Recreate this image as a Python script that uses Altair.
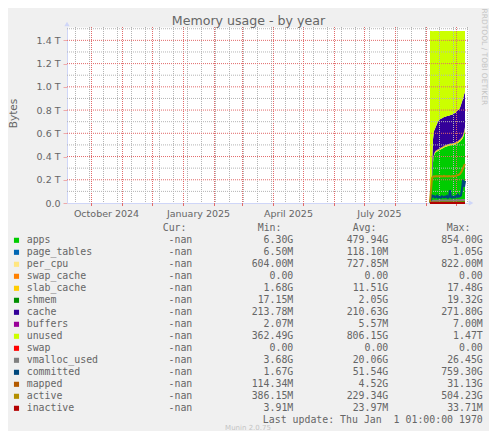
import altair as alt
import pandas as pd

# ---------------- data (GB) ----------------
days = pd.date_range("2025-09-05", periods=36, freq="D").strftime("%Y-%m-%d").tolist()

apps = [6.3, 75, 212, 350, 409, 429, 438, 443, 448, 453,
        458, 463, 468, 472, 477, 482, 487, 487, 492, 492,
        497, 497, 497, 501, 501, 506, 506, 511, 516, 525,
        530, 539, 549, 563, 592, 631]
page_tables = [0.0065, 0.05, 0.08, 0.10, 0.10, 0.11, 0.11, 0.11, 0.11, 0.12,
               0.12, 0.12, 0.12, 0.12, 0.12, 0.12, 0.12, 0.12, 0.12, 0.12,
               0.12, 0.12, 0.12, 0.12, 0.12, 0.12, 0.12, 0.12, 0.13, 0.13,
               0.13, 0.14, 0.15, 0.20, 0.50, 1.05]
per_cpu = [0.60, 0.62, 0.65, 0.68, 0.70, 0.70, 0.71, 0.71, 0.72, 0.72,
           0.72, 0.73, 0.73, 0.73, 0.73, 0.74, 0.74, 0.74, 0.74, 0.74,
           0.74, 0.74, 0.75, 0.75, 0.75, 0.75, 0.75, 0.76, 0.76, 0.77,
           0.78, 0.79, 0.80, 0.81, 0.82, 0.82]
swap_cache = [0.0] * 36
slab_cache = [1.7, 4, 7, 9, 10, 10.5, 11, 11, 11.2, 11.3,
              11.4, 11.5, 11.6, 11.7, 11.8, 11.9, 12, 12, 12.1, 12.2,
              12.3, 12.4, 12.5, 12.6, 12.7, 12.8, 13, 13.2, 13.5, 14,
              14.5, 15, 15.5, 16, 17, 17.5]
shmem = [0.017, 0.5, 1.0, 1.5, 1.7, 1.8, 1.8, 1.9, 1.9, 1.9,
         2.0, 2.0, 2.0, 2.0, 2.0, 2.0, 2.0, 2.0, 2.0, 2.0,
         2.0, 2.0, 2.0, 2.0, 2.0, 2.0, 2.1, 2.1, 2.1, 2.1,
         2.2, 2.2, 2.3, 2.4, 2.5, 2.6]
cache = [0.21, 9.5, 79, 188, 198, 198, 208, 223, 238, 243,
         248, 248, 248, 248, 248, 243, 243, 248, 243, 243,
         243, 248, 248, 248, 253, 253, 258, 263, 268, 263,
         273, 288, 303, 318, 318, 302]
buffers = [0.0021, 0.004, 0.005, 0.0055, 0.0055, 0.0056, 0.0056, 0.0056, 0.0056, 0.0056,
           0.0056, 0.0056, 0.0056, 0.0056, 0.0056, 0.0056, 0.0056, 0.0056, 0.0056, 0.0056,
           0.0056, 0.0056, 0.0056, 0.0056, 0.0056, 0.0056, 0.0057, 0.0057, 0.0058, 0.0058,
           0.006, 0.006, 0.0062, 0.0065, 0.0068, 0.007]
unused = [1473, 1390, 1180, 930, 860, 840, 820, 800, 780, 770,
          760, 755, 750, 745, 740, 740, 735, 730, 730, 730,
          725, 720, 720, 715, 710, 705, 700, 690, 680, 675,
          660, 635, 610, 580, 550, 525]
swap = [0.0] * 36

vmalloc_used = [3.7, 10, 15, 18, 19, 19.5, 20, 20, 20, 20.5,
                20.5, 20.5, 21, 21, 21, 21, 21, 21.5, 21.5, 21.5,
                21.5, 22, 22, 22, 22, 22.5, 22.5, 23, 23, 23.5,
                24, 24.5, 25, 25.5, 26, 26.4]
committed = [1.7, 35, 65, 55, 60, 48, 52, 62, 47, 55,
             50, 45, 58, 52, 48, 56, 50, 60, 45, 52,
             110, 50, 45, 55, 50, 48, 60, 52, 70, 55,
             60, 65, 120, 200, 140, 190]
mapped = [0.11, 2, 3.5, 4, 4.2, 4.3, 4.3, 4.4, 4.4, 4.4,
          4.5, 4.5, 4.5, 4.5, 4.5, 4.5, 4.6, 4.6, 4.6, 4.6,
          4.6, 4.6, 4.6, 4.7, 4.7, 4.7, 4.7, 4.7, 4.8, 4.8,
          4.8, 4.9, 5, 5, 5.2, 5.5]
active = [5, 110, 215, 228, 230, 229, 231, 228, 230, 232,
          229, 231, 228, 230, 233, 229, 231, 230, 228, 232,
          230, 229, 231, 233, 230, 232, 235, 238, 240, 245,
          250, 262, 280, 300, 320, 335]
inactive = [0.0039, 0.01, 0.018, 0.022, 0.023, 0.023, 0.024, 0.024, 0.024, 0.024,
            0.024, 0.024, 0.024, 0.024, 0.024, 0.024, 0.024, 0.024, 0.024, 0.024,
            0.024, 0.024, 0.024, 0.024, 0.024, 0.024, 0.025, 0.025, 0.026, 0.026,
            0.027, 0.028, 0.03, 0.031, 0.033, 0.0337]

names = ["apps", "page_tables", "per_cpu", "swap_cache", "slab_cache", "shmem",
         "cache", "buffers", "unused", "swap", "vmalloc_used", "committed",
         "mapped", "active", "inactive"]
colors = ["#00CC00", "#0066B3", "#FFE680", "#FF8000", "#FFCC00", "#008F00",
          "#330099", "#990099", "#CCFF00", "#FF0000", "#808080", "#00487D",
          "#B35A00", "#B38F00", "#B30000"]
cur_vals = ["-nan"] * 15
min_vals = ["6.30G", "6.50M", "604.00M", "0.00\u00a0", "1.68G", "17.15M", "213.78M",
            "2.07M", "362.49G", "0.00\u00a0", "3.68G", "1.67G", "114.34M", "386.15M", "3.91M"]
avg_vals = ["479.94G", "118.10M", "727.85M", "0.00\u00a0", "11.51G", "2.05G", "210.63G",
            "5.57M", "806.15G", "0.00\u00a0", "20.06G", "51.54G", "4.52G", "229.34G", "23.97M"]
max_vals = ["854.00G", "1.05G", "822.00M", "0.00\u00a0", "17.48G", "19.32G", "271.80G",
            "7.00M", "1.47T", "0.00\u00a0", "26.45G", "759.30G", "31.13G", "504.23G", "33.71M"]

month_starts = pd.date_range("2024-10-01", "2025-10-01", freq="MS").strftime("%Y-%m-%d").tolist()
biweekly = pd.date_range("2024-09-15", "2025-10-12", freq="14D").strftime("%Y-%m-%d").tolist()
minor_y = [100, 300, 500, 700, 900, 1100, 1300, 1500]
major_y = [200, 400, 600, 800, 1000, 1200, 1400]
label_y = [0, 200, 400, 600, 800, 1000, 1200, 1400]

# ---------------- tables ----------------
area_series = [("apps", apps), ("page_tables", page_tables), ("per_cpu", per_cpu),
               ("swap_cache", swap_cache), ("slab_cache", slab_cache), ("shmem", shmem),
               ("cache", cache), ("buffers", buffers), ("unused", unused), ("swap", swap)]
rows = []
for k, (nm, vals) in enumerate(area_series):
    for d, v in zip(days, vals):
        rows.append({"date": d, "name": nm, "value": v, "ord": k})
area_df = pd.DataFrame(rows)

line_series = [("vmalloc_used", vmalloc_used), ("committed", committed),
               ("mapped", mapped), ("active", active), ("inactive", inactive)]

leg_df = pd.DataFrame({"name": names, "cur": cur_vals, "mn": min_vals, "avg": avg_vals,
                       "mx": max_vals, "row": list(range(15))})

FONT = "DejaVu Sans"
MONO = "DejaVu Sans Mono"
TXT = "#666666"
AXIS = "#CFD6F8"

xscale = alt.Scale(type="utc",
                   domain=[alt.DateTime(year=2024, month=9, date=7, utc=True),
                           alt.DateTime(year=2025, month=10, date=13, utc=True)])
yscale = alt.Scale(domain=[0, 1515], nice=False, zero=True)
cscale = alt.Scale(domain=names, range=colors)
rowscale = alt.Scale(domain=[0, 14], range=[216, 384], zero=False, nice=False)

xaxis = alt.Axis(values=[alt.DateTime(year=2024, month=10, date=16, utc=True),
                         alt.DateTime(year=2025, month=1, date=16, utc=True),
                         alt.DateTime(year=2025, month=4, date=16, utc=True),
                         alt.DateTime(year=2025, month=7, date=16, utc=True)],
                 labelExpr="utcFormat(datum.value, '%B %Y')",
                 ticks=False, tickSize=0, labelPadding=13, labelBaseline="alphabetic",
                 labelFont=FONT, labelFontSize=9.5, labelColor=TXT,
                 domainColor=AXIS, domainWidth=1, grid=False, title=None,
                 labelFlush=False, labelOverlap=False)
yaxis = alt.Axis(values=label_y,
                 labelExpr="datum.value == 0 ? '0.0\u00a0\u00a0' : format(datum.value / 1000, '.1f') + ' T'",
                 tickSize=4, tickColor="#eeaaaa", labelPadding=3,
                 labelFont=FONT, labelFontSize=9.5, labelColor=TXT,
                 domainColor=AXIS, domainWidth=1, grid=False, title=None,
                 labelFlush=False, labelOverlap=False)

XS = dict(scale=xscale, axis=xaxis)
YS = dict(scale=yscale, axis=yaxis)

areas = alt.Chart(area_df).mark_area(interpolate="linear").encode(
    x=alt.X("date:T", **XS),
    y=alt.Y("value:Q", stack="zero", **YS),
    color=alt.Color("name:N", scale=cscale, legend=None),
    order=alt.Order("ord:Q", sort="ascending"),
)

GRAY = "#b4b4b4"
RED = "#e26a6a"
g_vminor = alt.Chart(pd.DataFrame({"date": biweekly})).mark_rule(
    color=GRAY, strokeDash=[1, 1], strokeWidth=1, xOffset=0.5).encode(x=alt.X("date:T", **XS))
g_vmajor = alt.Chart(pd.DataFrame({"date": month_starts})).mark_rule(
    color=RED, strokeDash=[1, 1], strokeWidth=1, xOffset=0.5).encode(x=alt.X("date:T", **XS))
g_hminor = alt.Chart(pd.DataFrame({"v": minor_y})).mark_rule(
    color=GRAY, strokeDash=[1, 1], strokeWidth=1).encode(y=alt.Y("v:Q", **YS))
g_hmajor = alt.Chart(pd.DataFrame({"v": major_y})).mark_rule(
    color=RED, strokeDash=[1, 1], strokeWidth=1).encode(y=alt.Y("v:Q", **YS))
month_ticks = alt.Chart(pd.DataFrame({"date": month_starts})).mark_rule(
    color=RED, strokeWidth=1, xOffset=0.5).encode(
    x=alt.X("date:T", **XS), y=alt.value(176), y2=alt.value(179))

line_layers = []
for nm, vals in line_series:
    df = pd.DataFrame({"date": days, "value": vals, "name": nm})
    line_layers.append(alt.Chart(df).mark_line(strokeWidth=2, interpolate="linear").encode(
        x=alt.X("date:T", **XS),
        y=alt.Y("value:Q", stack=None, **YS),
        color=alt.Color("name:N", scale=cscale, legend=None),
    ))

arrow_y = alt.Chart(pd.DataFrame({"a": [1]})).mark_point(
    shape="triangle-up", filled=True, size=28, color=AXIS, opacity=1).encode(
    x=alt.value(0), y=alt.value(-3))
arrow_x = alt.Chart(pd.DataFrame({"a": [1]})).mark_point(
    shape="triangle-right", filled=True, size=28, color=AXIS, opacity=1).encode(
    x=alt.value(404), y=alt.value(176))

main = alt.layer(areas, g_vminor, g_vmajor, g_hminor, g_hmajor, month_ticks,
                 *line_layers, arrow_y, arrow_x)

# ---------------- legend table ----------------
ROW = alt.Y("row:Q", scale=rowscale, axis=None)
swatches = alt.Chart(leg_df).mark_square(size=26, filled=True, opacity=1, yOffset=-2.7).encode(
    x=alt.value(-50.5), y=ROW, color=alt.Color("name:N", scale=cscale, legend=None))


def col(field, x, align):
    return alt.Chart(leg_df).mark_text(
        align=align, baseline="alphabetic", font=MONO, fontSize=9.9, color=TXT).encode(
        x=alt.value(x), y=ROW, text=f"{field}:N")


legend_cols = [col("name", -40.3, "left"), col("cur", 125.3, "right"),
               col("mn", 226.3, "right"), col("avg", 321.3, "right"), col("mx", 415.8, "right")]

headers = ["Cur:", "Min:", "Avg:", "Max:"]
header_x = [95.7, 190.7, 285.7, 379.7]
header_layers = [
    alt.Chart(pd.DataFrame({"t": [h], "row": [-1]})).mark_text(
        align="left", baseline="alphabetic", font=MONO, fontSize=9.9, color=TXT).encode(
        x=alt.value(hx), y=ROW, text="t:N")
    for h, hx in zip(headers, header_x)
]
last_update = alt.Chart(pd.DataFrame({"t": ["Last update: Thu Jan\u00a0 1 01:00:00 1970"], "row": [15]})).mark_text(
    align="right", baseline="alphabetic", font=MONO, fontSize=9.9, color=TXT).encode(
    x=alt.value(415.8), y=ROW, text="t:N")


def label(txt, x, y, size, align="left", angle=0, color=TXT, font=FONT):
    return alt.Chart(pd.DataFrame({"t": [txt]})).mark_text(
        align=align, baseline="alphabetic", font=font, fontSize=size, angle=angle, color=color).encode(
        x=alt.value(x), y=alt.value(y), text="t:N")


title = label("Memory usage - by year", 181.5, -2.5, 12.6, align="center")
ytitle = label("Bytes", -50, 86.5, 10.5, align="center", angle=270)
rrd = label("RRDTOOL / TOBI OETIKER", 415.3, -18.5, 7.5, align="left", angle=90, color="#c4c4c4")
munin = label("Munin 2.0.75", 181, 403, 7, align="center", color="#c4c4c4")

chart = alt.layer(
    main, swatches, *legend_cols, *header_layers, last_update, title, ytitle, rrd, munin
).resolve_scale(y="independent").properties(
    width=401, height=176,
    autosize=alt.AutoSizeParams(type="none"),
    padding={"left": 59, "top": 19, "right": 21, "bottom": 228},
    background="#f0f0f0",
).configure_view(fill="white", strokeOpacity=0)

chart.save("out.html", embed_options={"renderer": "svg", "actions": False})
